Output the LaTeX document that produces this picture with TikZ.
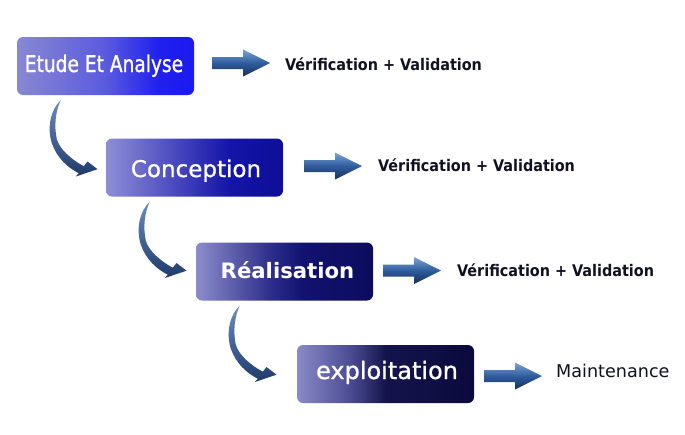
\documentclass[tikz,border=0pt]{standalone}
\usepackage{fontspec}
\setmainfont{DejaVu Sans}
\newfontfamily\condfont{DejaVu Sans Condensed}
\newfontfamily\condmed{DejaVu Sans Condensed}[RawFeature={embolden=1.2}]
\newfontfamily\sansmed{DejaVu Sans}[RawFeature={embolden=0.8}]
\usepackage{graphicx}
\definecolor{lA}{HTML}{8888D2}\definecolor{mA}{HTML}{5A5AE0}\definecolor{dA}{HTML}{2020EE}\definecolor{rA}{HTML}{1A1AF0}
\definecolor{lB}{HTML}{8E8ED6}\definecolor{mB}{HTML}{3535B8}\definecolor{dB}{HTML}{1414A8}\definecolor{rB}{HTML}{0E0E98}
\definecolor{lC}{HTML}{8C8CCC}\definecolor{mC}{HTML}{2A2A88}\definecolor{dC}{HTML}{121270}\definecolor{rC}{HTML}{0C0C5E}
\definecolor{lD}{HTML}{8A8AC8}\definecolor{mD}{HTML}{4C4C94}\definecolor{dD}{HTML}{14144C}\definecolor{rD}{HTML}{0A0A3E}
\definecolor{arrlight}{HTML}{7AA3D8}\definecolor{arrmid}{HTML}{2F5C9C}\definecolor{arrdark}{HTML}{15305E}
\definecolor{swlight}{HTML}{6B8CC0}\definecolor{swdark}{HTML}{1E3A6B}
\definecolor{lbltext}{HTML}{111122}
\pgfdeclarehorizontalshading{shA}{100bp}{color(0bp)=(lA);color(25bp)=(lA);color(50bp)=(mA);color(65bp)=(dA);color(75bp)=(rA);color(100bp)=(rA)}
\pgfdeclarehorizontalshading{shB}{100bp}{color(0bp)=(lB);color(25bp)=(lB);color(50bp)=(mB);color(60bp)=(dB);color(75bp)=(rB);color(100bp)=(rB)}
\pgfdeclarehorizontalshading{shC}{100bp}{color(0bp)=(lC);color(25bp)=(lC);color(47bp)=(mC);color(55bp)=(dC);color(75bp)=(rC);color(100bp)=(rC)}
\pgfdeclarehorizontalshading{shD}{100bp}{color(0bp)=(lD);color(25bp)=(lD);color(40bp)=(mD);color(50bp)=(dD);color(75bp)=(rD);color(100bp)=(rD)}
\tikzset{
  stagebox/.style={rectangle, rounded corners=6pt, minimum width=177pt, minimum height=58pt, inner sep=0pt},
  stagetext/.style={text=white, inner sep=0pt},
  lbl/.style={text=lbltext, inner sep=0pt, font=\condfont\bfseries\fontsize{16}{17}\selectfont},
  rarr/.style={top color=arrlight, bottom color=arrdark, middle color=arrmid},
  swoosh/.style={top color=swlight, bottom color=swdark},
}
\newcommand\swooshfrom[1]{%
  \begin{scope}[shift={(#1)}]
    \shade[swoosh] (44,5) .. controls (34,14) and (30,32) .. (35,48)
      .. controls (40,62) and (50,72) .. (62,78)
      -- (59,81.3) -- (80.7,74) -- (70.7,66.3) -- (67,71)
      .. controls (54,64) and (43,54) .. (40,44)
      .. controls (37,30) and (39,15) .. (44,5) -- cycle;
  \end{scope}}
\newcommand\rarrowat[1]{%
  \begin{scope}[shift={(#1)}]
    \shade[rarr] (0,-6) -- (31,-6) -- (31,-13.5) -- (58,0) -- (31,13.5) -- (31,6) -- (0,6) -- cycle;
  \end{scope}}
\begin{document}
\begin{tikzpicture}[x=1pt,y=-1pt]
\fill[white] (0,0) rectangle (685,434);
\useasboundingbox (0,0) rectangle (685,434);
% boxes
\node[stagebox, shading=shA] (b1) at (105.5,66) {};
\node[stagebox, shading=shB] (b2) at (194.5,167.5) {};
\node[stagebox, shading=shC] (b3) at (284.5,271.5) {};
\node[stagebox, shading=shD] (b4) at (385.5,374) {};
% box texts
\node[stagetext, anchor=base] (t1) at (104,72) {\condmed\fontsize{23}{23}\selectfont\scalebox{0.9}[1]{Etude Et Analyse}};
\node[stagetext, anchor=base] (t2) at (196,177) {\sansmed\fontsize{23}{24}\selectfont Conception};
\node[stagetext, anchor=base] (t3) at (287.5,278) {\bfseries\fontsize{21.2}{22}\selectfont Réalisation};
\node[stagetext, anchor=base] (t4) at (387,379) {\sansmed\fontsize{24}{25}\selectfont exploitation};
% labels
\node[lbl, anchor=base west] (l1) at (285,70) {Vérification + Validation};
\node[lbl, anchor=base west] (l2) at (378,171) {Vérification + Validation};
\node[lbl, anchor=base west] (l3) at (457,276) {Vérification + Validation};
\node[text=lbltext, inner sep=0pt, anchor=base west, font=\fontsize{17.6}{18}\selectfont] (l4) at (556,377) {Maintenance};
% right arrows
\coordinate (a1) at (212,63);
\coordinate (a2) at (304,166);
\coordinate (a3) at (383,270.5);
\coordinate (a4) at (484,376);
\rarrowat{a1}
\rarrowat{a2}
\rarrowat{a3}
\rarrowat{a4}
% curved arrows
\swooshfrom{b1.south west}
\swooshfrom{b2.south west}
\swooshfrom{b3.south west}
\end{tikzpicture}
\end{document}
